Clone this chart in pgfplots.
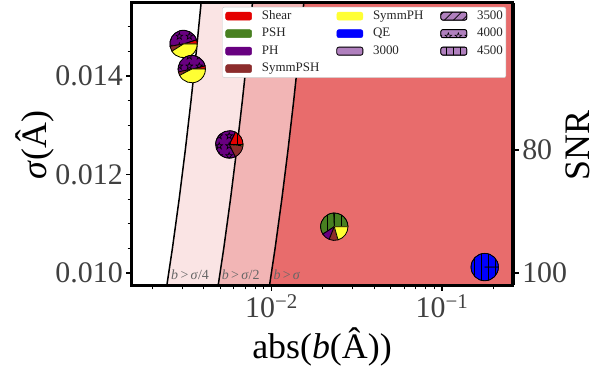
\documentclass[border=0pt]{standalone}
\usepackage{fontspec}
\setmainfont{Liberation Serif}
\usepackage{pgfplots}
\pgfplotsset{compat=1.18}
\usetikzlibrary{patterns}
\definecolor{ShearC}{RGB}{228,0,0}
\definecolor{PSHC}{RGB}{72,128,32}
\definecolor{PHC}{RGB}{104,0,128}
\definecolor{SPSHC}{RGB}{140,44,44}
\definecolor{SPHC}{RGB}{255,255,51}
\definecolor{QEC}{RGB}{0,0,255}
\definecolor{LegP}{RGB}{176,128,190}
\definecolor{RegA}{RGB}{250,228,228}
\definecolor{RegB}{RGB}{242,181,181}
\definecolor{RegC}{RGB}{232,108,108}

\pgfdeclarepatternformonly{ostars}{\pgfqpoint{-4pt}{-4pt}}{\pgfqpoint{4pt}{4pt}}{\pgfqpoint{10pt}{10pt}}{%
  \pgfsetlinewidth{0.6pt}%
  \pgfpathmoveto{\pgfqpoint{0pt}{3.6pt}}%
  \pgfpathlineto{\pgfqpoint{0.823pt}{1.133pt}}%
  \pgfpathlineto{\pgfqpoint{3.424pt}{1.112pt}}%
  \pgfpathlineto{\pgfqpoint{1.332pt}{-0.433pt}}%
  \pgfpathlineto{\pgfqpoint{2.116pt}{-2.912pt}}%
  \pgfpathlineto{\pgfqpoint{0pt}{-1.4pt}}%
  \pgfpathlineto{\pgfqpoint{-2.116pt}{-2.912pt}}%
  \pgfpathlineto{\pgfqpoint{-1.332pt}{-0.433pt}}%
  \pgfpathlineto{\pgfqpoint{-3.424pt}{1.112pt}}%
  \pgfpathlineto{\pgfqpoint{-0.823pt}{1.133pt}}%
  \pgfpathclose
  \pgfusepath{stroke}}
\pgfdeclarepatternformonly{vlines}{\pgfqpoint{-1pt}{-1pt}}{\pgfqpoint{1pt}{100pt}}{\pgfqpoint{7pt}{100pt}}{%
  \pgfsetlinewidth{0.8pt}%
  \pgfpathmoveto{\pgfqpoint{0pt}{0pt}}%
  \pgfpathlineto{\pgfqpoint{0pt}{100pt}}%
  \pgfusepath{stroke}}
\pgfdeclarepatternformonly{dlines}{\pgfqpoint{-1pt}{-1pt}}{\pgfqpoint{10pt}{10pt}}{\pgfqpoint{9pt}{9pt}}{%
  \pgfsetlinewidth{0.7pt}%
  \pgfpathmoveto{\pgfqpoint{0pt}{0pt}}%
  \pgfpathlineto{\pgfqpoint{9.1pt}{9.1pt}}%
  \pgfusepath{stroke}}

\newcommand{\pr}{13.7bp}
\newcommand{\pw}[3]{%
  \fill[#3] (0bp,0bp) -- (#1:\pr) arc[start angle=#1,end angle=#2,radius=\pr] -- cycle;
  \draw[black, line width=0.8bp, line join=round] (0bp,0bp) -- (#1:\pr) arc[start angle=#1,end angle=#2,radius=\pr] -- cycle;}
\newcommand{\pwp}[4]{%
  \fill[#3] (0bp,0bp) -- (#1:\pr) arc[start angle=#1,end angle=#2,radius=\pr] -- cycle;
  \fill[pattern=#4, pattern color=black] (0bp,0bp) -- (#1:\pr) arc[start angle=#1,end angle=#2,radius=\pr] -- cycle;
  \draw[black, line width=0.8bp, line join=round] (0bp,0bp) -- (#1:\pr) arc[start angle=#1,end angle=#2,radius=\pr] -- cycle;}

\pgfdeclareplotmark{pieA}{\pw{0}{18}{ShearC}\pwp{18}{190}{PHC}{ostars}\pw{190}{212}{SPSHC}\pw{212}{360}{SPHC}}
\pgfdeclareplotmark{pieB}{\pw{0}{14}{ShearC}\pwp{14}{192}{PHC}{ostars}\pw{192}{207}{SPSHC}\pw{207}{360}{SPHC}}
\pgfdeclareplotmark{pieC}{\pwp{0}{64}{ShearC}{vlines}\pwp{64}{296}{PHC}{ostars}\pw{296}{354}{SPSHC}\pw{354}{360}{SPHC}}
\pgfdeclareplotmark{pieD}{\pwp{0}{92}{PSHC}{vlines}\pwp{92}{213}{PSHC}{vlines}\pw{213}{248}{PHC}\pw{248}{286}{SPSHC}\pw{286}{360}{SPHC}}
\pgfdeclareplotmark{pieE}{\pwp{0}{360}{QEC}{vlines}}

\pgfplotsset{
  legcol/.style={legend image code/.code={\fill[#1] (0bp,-4bp) rectangle (26bp,4bp); \path (36bp,0bp);}},
  leghatch/.style={legend image code/.code={\fill[LegP] (0bp,-4bp) rectangle (26bp,4bp); \fill[pattern=#1, pattern color=black] (0bp,-4bp) rectangle (26bp,4bp); \draw[black, line width=0.8bp] (0bp,-4bp) rectangle (26bp,4bp); \path (36bp,0bp);}},
  legplain/.style={legend image code/.code={\fill[LegP] (0bp,-4bp) rectangle (26bp,4bp); \draw[black, line width=0.8bp] (0bp,-4bp) rectangle (26bp,4bp); \path (36bp,0bp);}},
}

\begin{document}
\begin{tikzpicture}
\path[use as bounding box] (0,0) rectangle (598bp,375bp);
\begin{axis}[
  at={(132bp,90bp)}, anchor=south west,
  scale only axis, width=381bp, height=282bp,
  xmode=log, xmin=0.001521, xmax=0.2607,
  ymin=0.009756, ymax=0.015482,
  axis on top=true,
  axis line style={line width=3bp},
  tick align=outside,
  xtick pos=bottom, ytick pos=left,
  xtick={0.01,0.1},
  xticklabels={10\textsuperscript{−2},10\textsuperscript{−1}},
  minor xtick={0.002,0.003,0.004,0.005,0.006,0.007,0.008,0.009,0.02,0.03,0.04,0.05,0.06,0.07,0.08,0.09,0.2},
  ytick={0.010,0.012,0.014},
  yticklabels={0.010,0.012,0.014},
  minor ytick={0.0100,0.0105,0.0110,0.0115,0.0125,0.0130,0.0135,0.0145,0.0150},
  major tick length=5.6bp, minor tick length=4.5bp,
  every major tick/.style={line width=1.3bp, black},
  every minor tick/.style={line width=0.8bp, black},
  tick label style={font=\fontsize{30}{30}\selectfont, text=black!75, inner sep=3.5bp},
  xlabel={abs(\textit{b}(Â))},
  ylabel={\textit{σ}(Â)},
  every axis x label/.style={at={(axis description cs:0.4987,-0.259)}, anchor=base, font=\fontsize{36}{36}\selectfont},
  every axis y label/.style={at={(axis description cs:-0.256,0.496)}, rotate=90, anchor=center, font=\fontsize{36}{36}\selectfont},
  legend columns=3,
  legend cell align=left,
  legend style={at={(0.982,0.986)}, anchor=north east, draw=black!20, rounded corners=2bp,
    fill=white, font=\fontsize{13}{13}\selectfont, text=black!85, inner xsep=3bp, inner ysep=3bp,
    row sep=5.5bp, nodes={inner sep=0pt, text height=9bp, text depth=3bp},
    /tikz/every even column/.append style={column sep=17bp}},
]
% shaded regions
\addplot[fill=RegA, draw=none, forget plot] coordinates {(0.002375,0.0095) (0.002625,0.0105) (0.002875,0.0115) (0.003125,0.0125) (0.003375,0.0135) (0.003625,0.0145) (0.004,0.016) (0.008,0.016) (0.00725,0.0145) (0.00675,0.0135) (0.00625,0.0125) (0.00575,0.0115) (0.00525,0.0105) (0.00475,0.0095)} -- cycle;
\addplot[fill=RegB, draw=none, forget plot] coordinates {(0.00475,0.0095) (0.00525,0.0105) (0.00575,0.0115) (0.00625,0.0125) (0.00675,0.0135) (0.00725,0.0145) (0.008,0.016) (0.016,0.016) (0.0145,0.0145) (0.0135,0.0135) (0.0125,0.0125) (0.0115,0.0115) (0.0105,0.0105) (0.0095,0.0095)} -- cycle;
\addplot[fill=RegC, draw=none, forget plot] coordinates {(0.0095,0.0095) (0.0105,0.0105) (0.0115,0.0115) (0.0125,0.0125) (0.0135,0.0135) (0.0145,0.0145) (0.016,0.016) (1,0.016) (1,0.0095)} -- cycle;
\addplot[black, line width=1.5bp, forget plot] coordinates {(0.002375,0.0095) (0.002625,0.0105) (0.002875,0.0115) (0.003125,0.0125) (0.003375,0.0135) (0.003625,0.0145) (0.004,0.016)};
\addplot[black, line width=1.5bp, forget plot] coordinates {(0.00475,0.0095) (0.00525,0.0105) (0.00575,0.0115) (0.00625,0.0125) (0.00675,0.0135) (0.00725,0.0145) (0.008,0.016)};
\addplot[black, line width=1.5bp, forget plot] coordinates {(0.0095,0.0095) (0.0105,0.0105) (0.0115,0.0115) (0.0125,0.0125) (0.0135,0.0135) (0.0145,0.0145) (0.016,0.016)};
\node[anchor=base west, inner sep=0pt, font=\fontsize{14}{14}\selectfont, text=black!60] at (axis cs:0.002576,0.009858) {\textit{b}\,>\,\textit{σ}/4};
\node[anchor=base west, inner sep=0pt, font=\fontsize{14}{14}\selectfont, text=black!60] at (axis cs:0.005105,0.009858) {\textit{b}\,>\,\textit{σ}/2};
\node[anchor=base west, inner sep=0pt, font=\fontsize{14}{14}\selectfont, text=black!60] at (axis cs:0.01025,0.009858) {\textit{b}\,>\,\textit{σ}};
% pies
\addplot[only marks, mark=pieA, forget plot] coordinates {(0.00305,0.01465)};
\addplot[only marks, mark=pieB, forget plot] coordinates {(0.00341,0.01414)};
\addplot[only marks, mark=pieC, forget plot] coordinates {(0.00566,0.01261)};
\addplot[only marks, mark=pieD, forget plot] coordinates {(0.02335,0.01094)};
\addplot[only marks, mark=pieE, forget plot] coordinates {(0.178,0.01012)};
% legend (row-major)
\addlegendimage{legcol=ShearC}\addlegendentry{Shear}
\addlegendimage{legcol=SPHC}\addlegendentry{SymmPH}
\addlegendimage{leghatch=dlines}\addlegendentry{3500}
\addlegendimage{legcol=PSHC}\addlegendentry{PSH}
\addlegendimage{legcol=QEC}\addlegendentry{QE}
\addlegendimage{leghatch=ostars}\addlegendentry{4000}
\addlegendimage{legcol=PHC}\addlegendentry{PH}
\addlegendimage{legplain}\addlegendentry{3000}
\addlegendimage{leghatch=vlines}\addlegendentry{4500}
\addlegendimage{legcol=SPSHC}\addlegendentry{SymmPSH}
\end{axis}
\begin{axis}[
  at={(132bp,90bp)}, anchor=south west,
  scale only axis, width=381bp, height=282bp,
  xmode=log, xmin=0.001521, xmax=0.2607,
  ymin=0.009756, ymax=0.015482,
  axis x line=none, axis y line*=right,
  xtick=\empty,
  axis line style={line width=3bp},
  tick align=outside,
  ytick={0.01,0.0125}, yticklabels={100,80},
  minor ytick={},
  major tick length=5.6bp,
  every major tick/.style={line width=1.3bp, black},
  tick label style={font=\fontsize{30}{30}\selectfont, text=black!75, inner sep=3.5bp},
  ylabel={SNR},
  every axis y label/.style={at={(axis description cs:1.1706,0.496)}, rotate=90, anchor=center, font=\fontsize{36}{36}\selectfont},
]
\addplot[draw=none, forget plot] coordinates {(0.01,0.01)};
\end{axis}
\end{tikzpicture}
\end{document}
